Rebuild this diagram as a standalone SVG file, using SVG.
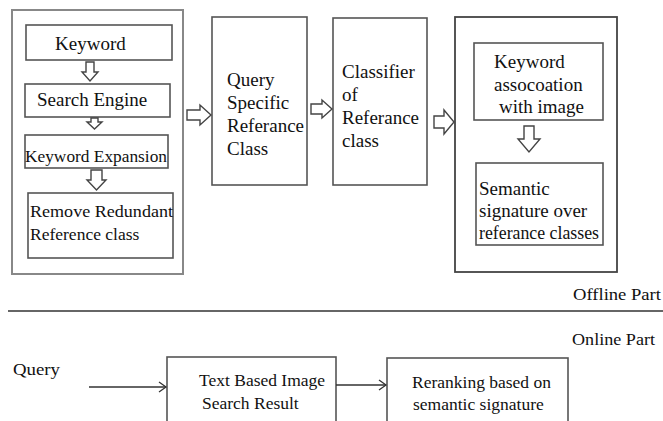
<svg xmlns="http://www.w3.org/2000/svg" width="663" height="421" viewBox="0 0 663 421" font-family="'Liberation Serif', 'Times New Roman', Tinos, 'DejaVu Serif', serif">
  <defs>
    <style>
      .box { fill: #ffffff; stroke: #555555; stroke-width: 1.6; }
      .outer { fill: #ffffff; stroke: #888888; stroke-width: 2; }
      .frame { fill: #ffffff; stroke: #444444; stroke-width: 1.8; }
      text { font-family: 'Liberation Serif', 'Times New Roman', Tinos, 'DejaVu Serif', serif; fill: #111111; }
      .big { font-size: 19px; }
      .mid { font-size: 17.5px; }
      .hollow { fill: #ffffff; stroke: #444444; stroke-width: 1.4; stroke-linejoin: miter; }
      .wire { fill: none; stroke: #666666; stroke-width: 2; }
      .line { fill: none; stroke: #333333; stroke-width: 1.5; }
    </style>
    <marker id="chevron" markerWidth="10" markerHeight="12" refX="8" refY="6" orient="auto" markerUnits="userSpaceOnUse">
      <path d="M1,1 L8,6 L1,11" fill="none" stroke="#333333" stroke-width="1.3"/>
    </marker>
  </defs>

  <!-- offline: keyword processing group -->
  <g id="keyword-group">
    <rect class="outer" x="12" y="10" width="171" height="264"/>
    <g id="keyword">
      <rect class="box" x="26" y="25" width="146" height="35"/>
      <text class="big" x="55" y="50">Keyword</text>
    </g>
    <g id="search-engine">
      <rect class="box" x="25" y="84" width="145" height="33"/>
      <text class="big" x="37" y="106">Search Engine</text>
    </g>
    <g id="keyword-expansion">
      <rect class="box" x="25" y="135" width="143" height="33"/>
      <text class="mid" x="25" y="162" textLength="142" lengthAdjust="spacingAndGlyphs">Keyword Expansion</text>
    </g>
    <g id="remove-redundant">
      <rect class="box" x="28" y="193" width="145" height="65"/>
      <text class="mid" x="30" y="217" textLength="143" lengthAdjust="spacingAndGlyphs">Remove Redundant</text>
      <text class="mid" x="30" y="240">Reference class</text>
    </g>
  </g>

  <g id="query-specific">
    <rect class="box" x="212" y="17" width="95" height="168"/>
    <text class="big" x="227" y="86">Query</text>
    <text class="big" x="227" y="109">Specific</text>
    <text class="big" x="227" y="132">Referance</text>
    <text class="big" x="227" y="155">Class</text>
  </g>

  <g id="classifier">
    <rect class="box" x="333" y="18" width="94" height="167"/>
    <text class="big" x="342" y="78">Classifier</text>
    <text class="big" x="342" y="101">of</text>
    <text class="big" x="342" y="124">Referance</text>
    <text class="big" x="342" y="147">class</text>
  </g>

  <g id="signature-group">
    <rect class="frame" x="455" y="17" width="162" height="255"/>
    <g id="keyword-association">
      <rect class="box" x="474" y="43" width="129" height="77"/>
      <text class="big" x="494" y="68">Keyword</text>
      <text class="big" x="494" y="91">assocoation</text>
      <text class="big" x="499" y="113">with image</text>
    </g>
    <g id="semantic-signature">
      <rect class="box" x="476" y="163" width="127" height="82"/>
      <text class="big" x="479" y="195">Semantic</text>
      <text class="big" x="479" y="217">signature over</text>
      <text class="big" x="479" y="239" textLength="120" lengthAdjust="spacingAndGlyphs">referance classes</text>
    </g>
  </g>

  <!-- section labels and divider -->
  <g id="sections">
    <text class="mid" x="573" y="300" textLength="88" lengthAdjust="spacingAndGlyphs">Offline Part</text>
    <line class="wire" x1="8" y1="311" x2="663" y2="311"/>
    <text class="mid" x="572" y="345" textLength="83" lengthAdjust="spacingAndGlyphs">Online Part</text>
  </g>

  <!-- online pipeline -->
  <g id="query">
    <text class="mid" x="13" y="375" textLength="47" lengthAdjust="spacingAndGlyphs">Query</text>
  </g>
  <g id="text-search">
    <rect class="box" x="167" y="357" width="169" height="70"/>
    <text class="mid" x="199" y="386">Text Based Image</text>
    <text class="mid" x="202" y="409">Search Result</text>
  </g>
  <g id="reranking">
    <rect class="box" x="387" y="358" width="181" height="70"/>
    <text class="mid" x="412" y="388">Reranking based on</text>
    <text class="mid" x="413" y="410">semantic signature</text>
  </g>

  <!-- connectors -->
  <g id="connectors">
    <!-- hollow down arrows -->
    <path class="hollow" d="M86,62 H94 V72 H98 L90,81 L82,72 H86 Z"/>
    <path class="hollow" d="M91,118 H98 V122 H102 L94.5,129 L87,122 H91 Z"/>
    <path class="hollow" d="M91,170 H102 V180 H106 L96.5,190 L87,180 H91 Z"/>
    <path class="hollow" d="M524,126 H534 V139 H540 L529,152 L518,139 H524 Z"/>
    <!-- hollow right arrows -->
    <path class="hollow" d="M187,110 H200 V105 L211,115 L200,125 V120 H187 Z"/>
    <path class="hollow" d="M311,104 H322 V100 L332,109 L322,118 V114 H311 Z"/>
    <path class="hollow" d="M434,116 H444 V110 L454,122 L444,134 V128 H434 Z"/>
    <!-- line arrows -->
    <line class="wire" x1="89" y1="387" x2="166" y2="387" marker-end="url(#chevron)"/>
    <line class="line" x1="336" y1="385" x2="386" y2="385" marker-end="url(#chevron)"/>
  </g>
</svg>
